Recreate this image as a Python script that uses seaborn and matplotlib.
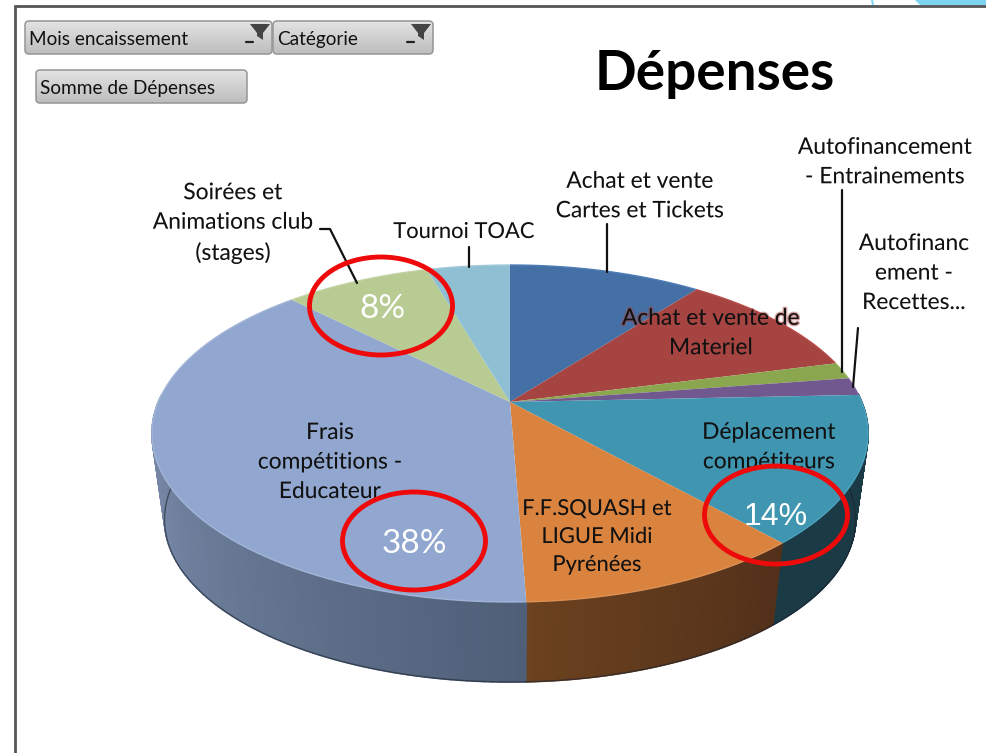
import matplotlib
matplotlib.use('Agg')
import matplotlib.pyplot as plt
import matplotlib.patheffects as pe
import matplotlib.transforms as mtransforms
import numpy as np
import seaborn as sns
from matplotlib.path import Path
from matplotlib.patches import Ellipse, FancyBboxPatch, Polygon
from matplotlib.collections import PolyCollection

sns.set_theme(style='white')
plt.rcParams['font.family'] = ['Lato', 'DejaVu Sans']

# data
categories = ['Achat et vente\nCartes et Tickets', 'Achat et vente de\nMateriel',
              'Autofinancement\n- Entrainements', 'Autofinanc\nement -\nRecettes...',
              'Déplacement\ncompétiteurs', 'F.F.SQUASH et\nLIGUE Midi\nPyrénées',
              'Frais\ncompétitions -\nEducateur', 'Soirées et\nAnimations club\n(stages)',
              'Tournoi TOAC']
values = [10.4, 10.6, 1.6, 1.7, 14.1, 11.0, 38.2, 7.9, 4.5]
top_colors = ['#4470a5', '#a64442', '#8aa64f', '#71588f', '#4096b0', '#d9833f', '#91a7cf', '#b7cb92', '#8fbfd2']
side_left = ['#2c4a6e', '#6e2c2a', '#5a6d33', '#4a3a5e', '#1a3a46', '#6c421f', '#8193b3', '#7a8a60', '#5e8090']
side_right = ['#2c4a6e', '#6e2c2a', '#5a6d33', '#4a3a5e', '#1a3a46', '#52301a', '#4f5f78', '#7a8a60', '#5e8090']

# pixel placement
label_xy = [(640, 196), (711, 333), (885, 162), (914, 273), (769, 447),
            (597, 537), (330, 462), (233, 223), (464, 232)]
label_size = [16.4, 16.4, 16.4, 16.4, 16.4, 15.8, 16.4, 16.4, 15.8]
label_on_slice = [False, True, False, False, True, True, True, False, False]
percent_text = ['8%', '38%', '14%']
percent_xy = [(382, 309), (414, 544), (776, 517)]
percent_font = ['Lato', 'Lato', 'Liberation Sans']
percent_size = [24, 24, 23]
ring_xy = [(381, 306), (414, 541), (776, 515)]
leaders = [[(607, 224), (607, 272)], [(320, 229), (330, 229), (357, 283)], [(469, 247), (469, 267)],
           [(842, 190), (842, 372)], [(858, 328), (853, 387)]]

W, H = 986, 753
CX, CY = 510, 402
K, B, A = 0.187, 162.6, 351.7
S, DY = 0.965, 87


def project(p, depth=0.0):
    # unit pie -> tilted disc in pixels
    w = 1 + K * p[:, 1]
    s = 1 - (1 - S) * depth
    return np.column_stack([CX + s * A * p[:, 0] / w, CY + DY * depth - s * B * p[:, 1] / w])


class Tilt(mtransforms.Transform):
    input_dims = output_dims = 2
    has_inverse = False

    def transform_non_affine(self, values):
        return project(np.asarray(values))

    def transform_path_non_affine(self, path):
        big = path.transformed(mtransforms.Affine2D().scale(3000))
        poly = big.to_polygons(closed_only=False)[0] / 3000
        return Path(project(poly))


fig = plt.figure(figsize=(W / 100, H / 100), dpi=100, facecolor='white')
ax = fig.add_axes([0, 0, 1, 1])

wedges, _ = ax.pie(values, colors=top_colors, startangle=90, counterclock=False,
                   wedgeprops={'linewidth': 0})
ax.set_aspect('auto')
ax.axis('off')

tilt = Tilt()
for w in wedges:
    w.set_transform(tilt + ax.transData)
    w.set_zorder(3)
    w.set_clip_on(False)

# outer wall of the pie, facing the viewer, from the wedge angles
for w, c1, c2 in zip(wedges, side_left, side_right):
    th = np.radians(np.linspace(w.theta1, w.theta2, 120))
    th = th[np.sin(th) < 0.05]
    if len(th) < 2:
        continue
    th = th[np.argsort(th)]
    pts = np.column_stack([np.cos(th), np.sin(th)])
    top, bot = project(pts), project(pts, 1.0)
    lo, hi = np.array(matplotlib.colors.to_rgb(c1)), np.array(matplotlib.colors.to_rgb(c2))
    quads, cols = [], []
    for i in range(len(th) - 1):
        quads.append([top[i], top[i + 1], bot[i + 1], bot[i]])
        cols.append(lo + (hi - lo) * i / (len(th) - 2))
    ax.add_collection(PolyCollection(quads, facecolors=cols, edgecolors=cols, linewidths=1.2, zorder=2))
    ax.plot(bot[:, 0], bot[:, 1], color='#1c2430', lw=1.0, alpha=0.6, zorder=2.5)

# light rim on the lit top face
for w, c in zip(wedges, top_colors):
    th = np.radians(np.linspace(w.theta1, w.theta2, 80))
    rim = project(np.column_stack([np.cos(th), np.sin(th)]))
    light = sns.set_hls_values(c, l=min(1, sns.utils.colorsys.rgb_to_hls(*matplotlib.colors.to_rgb(c))[1] + 0.05))
    ax.plot(rim[:, 0], rim[:, 1], color=light, lw=1.0, zorder=3.5, solid_capstyle='butt')

# slice names
for name, xy, fs, inside, c in zip(categories, label_xy, label_size, label_on_slice, top_colors):
    glow = [pe.withStroke(linewidth=2, foreground=c if inside else 'white', alpha=0.5)]
    ax.text(xy[0], xy[1], name, ha='center', va='center', fontsize=fs, color='#111111',
            linespacing=1.5, zorder=6, path_effects=glow)

for seg in leaders:
    seg = np.array(seg)
    ax.plot(seg[:, 0], seg[:, 1], color='#111111', lw=1.6, zorder=5)

# hand drawn red rings and their percentages
for txt, xy, r, f, fs in zip(percent_text, percent_xy, ring_xy, percent_font, percent_size):
    ax.text(xy[0], xy[1], txt, ha='center', va='center', fontsize=fs, color='white', family=f, zorder=7)
    ax.add_patch(Ellipse(r, 143, 98, fill=False, edgecolor='#ee0a0a', lw=3.5, zorder=8))

ax.text(715, 74, 'Dépenses', ha='center', va='center', fontsize=39.5, fontweight='bold', color='black', zorder=6)

# screenshot frame
ax.plot([15, 15, W], [H, 6, 6], color='#555555', lw=2, solid_joinstyle='miter', zorder=1)
ax.add_patch(Polygon([(915, 0), (W, 0), (W, 5), (920, 5)], closed=True, facecolor='#7dd3f0', edgecolor='none', zorder=1))
ax.add_patch(Polygon([(871, 0), (873, 0), (874, 5), (872, 5)], closed=True, facecolor='#7dd3f0', edgecolor='none', zorder=1))


def button(x0, y0, x1, y1, text, funnel=False):
    box = FancyBboxPatch((x0 + 3, y0 + 3), x1 - x0 - 6, y1 - y0 - 6, boxstyle='round,pad=3,rounding_size=4',
                         facecolor='none', edgecolor='#959595', lw=1.1, zorder=5)
    ax.add_patch(box)
    grad = np.linspace(0.89, 0.74, 64)[:, None]
    im = ax.imshow(grad, extent=(x0, x1, y1, y0), cmap='gray', vmin=0, vmax=1, aspect='auto', zorder=4)
    im.set_clip_path(box)
    ax.text(x0 + 4, (y0 + y1) / 2 + 2, text, ha='left', va='center', fontsize=13.7, color='#111111', zorder=6)
    if funnel:
        fx = x1 - 12
        ax.add_patch(Polygon([(fx - 10, y0 + 3), (fx + 10, y0 + 3), (fx + 3, y0 + 12), (fx + 3, y0 + 19), (fx - 3, y0 + 15), (fx - 3, y0 + 12)],
                             closed=True, facecolor='#444444', edgecolor='none', zorder=6))
        ax.plot([fx - 14, fx - 7], [y0 + 21, y0 + 21], color='#222222', lw=1.6, zorder=6)


button(25, 21, 272, 54, 'Mois encaissement', True)
button(273, 21, 433, 54, 'Catégorie', True)
button(36, 70, 247, 103, 'Somme de Dépenses')

ax.set_xlim(0, W)
ax.set_ylim(H, 0)
fig.savefig('out.png', dpi=100)
